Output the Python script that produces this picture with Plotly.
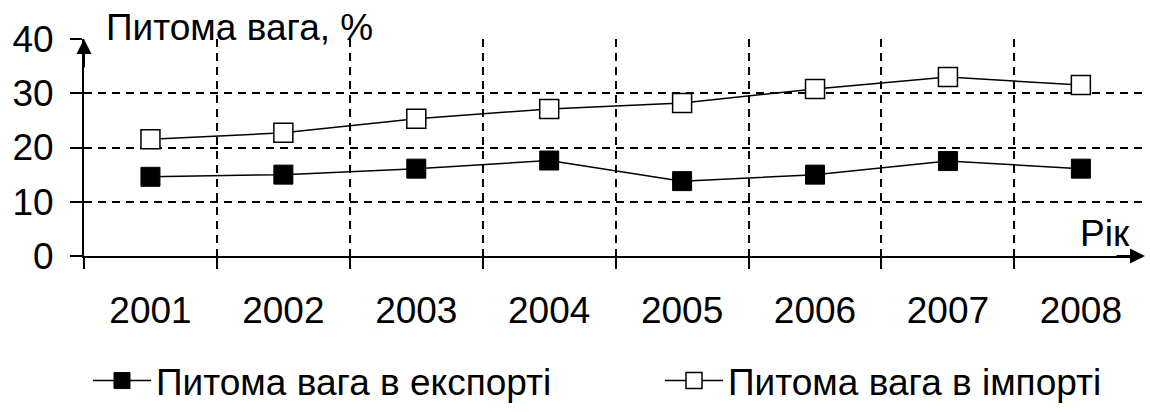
import plotly.graph_objects as go

# Data
years = ["2001", "2002", "2003", "2004", "2005", "2006", "2007", "2008"]
export_share = [14.6, 15.0, 16.1, 17.6, 13.8, 15.0, 17.5, 16.1]
import_share = [21.5, 22.7, 25.3, 27.1, 28.2, 30.8, 33.0, 31.5]
y_ticks = [0, 10, 20, 30, 40]

W, H = 1150, 412
ML, MR, MT, MB = 84, 8, 39, 156
PW, PH = W - ML - MR, H - MT - MB
FONT = "Liberation Sans, Arial, sans-serif"
FS = 37


def px(xp, yp):
    """Pixel position in the page -> paper coordinates."""
    return (xp - ML) / PW, (H - MB - yp) / PH


idx = list(range(len(years)))

fig = go.Figure()
fig.add_trace(go.Scatter(
    x=idx, y=export_share, name="Питома вага в експорті",
    mode="lines+markers", legend="legend",
    line=dict(color="black", width=1.5),
    marker=dict(symbol="square", size=19, color="black",
                line=dict(color="black", width=1)),
))
fig.add_trace(go.Scatter(
    x=idx, y=import_share, name="Питома вага в імпорті",
    mode="lines+markers", legend="legend2",
    line=dict(color="black", width=1.5),
    marker=dict(symbol="square", size=19, color="white",
                line=dict(color="black", width=1.5)),
))

legend_style = dict(
    orientation="h", xanchor="left", yanchor="bottom",
    font=dict(size=FS), itemwidth=58, bgcolor="rgba(0,0,0,0)",
)

fig.update_layout(
    width=W, height=H,
    margin=dict(l=ML, r=MR, t=MT, b=MB, pad=0, autoexpand=False),
    paper_bgcolor="white", plot_bgcolor="white",
    font=dict(family=FONT, size=FS, color="black"),
    showlegend=True,
    legend=dict(x=px(88, 0)[0], y=px(0, 412)[1], **legend_style),
    legend2=dict(x=px(660, 0)[0], y=px(0, 412)[1], **legend_style),
    xaxis=dict(
        range=[-0.5, len(years) - 0.54],
        tickmode="array", tickvals=idx, ticktext=years,
        ticks="", showgrid=False, zeroline=False,
        showline=True, linecolor="black", linewidth=2,
        ticklabelstandoff=21,
        minor=dict(tick0=-0.5, dtick=1, ticks="outside", ticklen=11,
                   tickwidth=2, tickcolor="black",
                   showgrid=True, gridcolor="black", gridwidth=1.6,
                   griddash="8px,6px"),
    ),
    yaxis=dict(
        range=[0, 40], tickmode="array", tickvals=y_ticks,
        ticks="outside", ticklen=12, tickwidth=1.5, tickcolor="black",
        showgrid=True, gridcolor="black", gridwidth=1.6,
        griddash="8px,6px", zeroline=False,
        showline=True, linecolor="black", linewidth=2,
        ticklabelstandoff=9,
    ),
)

# axis arrows
fig.add_annotation(xref="paper", yref="paper", x=0, y=1, ax=0, ay=30,
                   text="", showarrow=True, arrowhead=2, arrowsize=1.5,
                   arrowwidth=2, arrowcolor="black")
tipx, tipy = px(1145, 256)
fig.add_annotation(xref="paper", yref="paper", x=tipx, y=tipy, ax=-30, ay=0,
                   text="", showarrow=True, arrowhead=2, arrowsize=1.5,
                   arrowwidth=2, arrowcolor="black")

# axis titles
tx, ty = px(104, 27)
fig.add_annotation(xref="paper", yref="paper", x=tx, y=ty, xanchor="left",
                   yanchor="middle", text="Питома вага, %", showarrow=False,
                   font=dict(size=FS))
rx, ry = px(1132, 233)
fig.add_annotation(xref="paper", yref="paper", x=rx, y=ry, xanchor="right",
                   yanchor="middle", text="Рік", showarrow=False,
                   font=dict(size=FS))

fig.write_html("out.html")
